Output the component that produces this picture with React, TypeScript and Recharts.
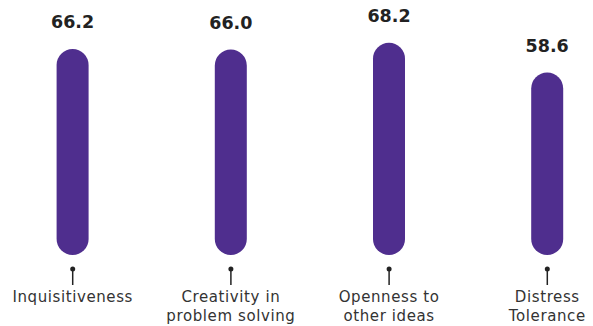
import { BarChart, Bar, XAxis, YAxis, LabelList } from 'recharts';

const categories = ['Inquisitiveness', 'Creativity in\nproblem solving', 'Openness to\nother ideas', 'Distress\nTolerance'];
const scores = [66.2, 66.0, 68.2, 58.6];

const data = categories.map((name, i) => ({ name, score: scores[i] }));

const PURPLE = '#4f2e8e';
const FONT = '"DejaVu Sans", Verdana, sans-serif';

// little pin + wrapped label under each bar
function PinTick(props: any) {
  const { x, y, payload } = props;
  const lines = String(payload.value).split('\n');
  return (
    <g>
      <line x1={x} x2={x} y1={y + 14} y2={y + 30} stroke="#222" strokeWidth={1.5} />
      <circle cx={x} cy={y + 14} r={2.5} fill="#222" />
      <text x={x} y={y + 47} textAnchor="middle" fontSize={15} letterSpacing={0.6} fill="#333" fontFamily={FONT}>
        {lines.map((l, i) => (
          <tspan key={i} x={x} dy={i === 0 ? 0 : 18.5}>{l}</tspan>
        ))}
      </text>
    </g>
  );
}

export default function App() {
  return (
    <div style={{ position: 'fixed', left: 0, top: 0, width: 593, height: 326, background: '#fff' }}>
      <BarChart width={593} height={326} data={data} margin={{ top: 6, right: 0, bottom: 0, left: 0 }}>
        <XAxis
          dataKey="name"
          axisLine={false}
          tickLine={false}
          tickSize={0}
          tickMargin={0}
          height={71}
          interval={0}
          padding={{ left: -6.4, right: -33.4 }}
          tick={<PinTick />}
        />
        <YAxis hide domain={[0, 80]} />
        <Bar dataKey="score" fill={PURPLE} barSize={32} radius={16} isAnimationActive={false}>
          <LabelList
            dataKey="score"
            position="top"
            offset={21}
            formatter={(v: any) => Number(v).toFixed(1)}
            style={{ fontFamily: FONT, fontSize: 17.5, fontWeight: 'bold', fill: '#222' }}
          />
        </Bar>
      </BarChart>
    </div>
  );
}
